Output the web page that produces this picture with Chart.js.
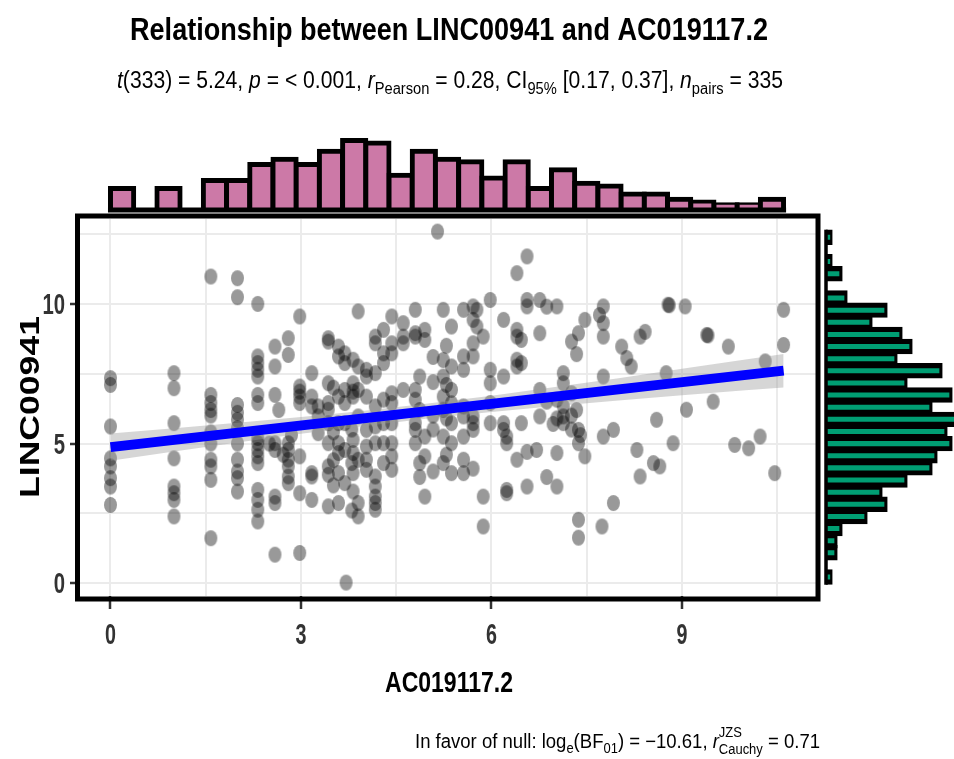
<!DOCTYPE html>
<html>
<head>
<meta charset="utf-8">
<title>LINC00941 vs AC019117.2</title>
<script src="https://cdn.jsdelivr.net/npm/chart.js@4.4.1/dist/chart.umd.min.js"></script>
<style>
  html, body { margin: 0; padding: 0; background: #ffffff; width: 954px; height: 759px; overflow: hidden; position: relative; }
  canvas { position: absolute; }
  #main { left: 0; top: 0; }
  #topHist { left: 80px; top: 130px; }
  #rightHist { left: 823px; top: 219px; }
</style>
</head>
<body>
<canvas id="main" width="954" height="759"></canvas>
<canvas id="topHist" width="736" height="83"></canvas>
<canvas id="rightHist" width="150" height="377"></canvas>
<script>
// ---- data -------------------------------------------------------------
// expression pairs [AC019117.2, LINC00941]
const samplePairs = [
  [0, 7.34], [0, 7.10], [0, 5.61], [0, 4.47], [0, 4.18], [0, 3.76], [0, 3.46], [0, 2.80],
  [1.0, 7.52], [1.0, 6.98], [1.0, 5.73], [1.0, 4.47], [1.0, 3.46], [1.0, 3.22], [1.0, 2.98], [1.0, 2.39],
  [1.58, 10.98], [1.58, 6.74], [1.58, 6.45], [1.58, 6.20], [1.58, 6.00], [1.58, 5.40], [1.58, 5.00], [1.58, 4.42], [1.58, 4.18], [1.58, 3.70], [1.58, 1.61],
  [2.0, 10.92], [2.0, 10.24], [2.0, 6.38], [2.0, 6.10], [2.0, 5.85], [2.0, 5.55], [2.0, 5.00], [2.0, 4.42], [2.0, 4.00], [2.0, 3.76], [2.0, 3.28],
  [2.32, 10.00], [2.32, 8.12], [2.32, 7.88], [2.32, 7.64], [2.32, 7.40], [2.32, 6.74], [2.32, 6.45], [2.32, 5.20], [2.32, 5.01], [2.32, 4.77], [2.32, 4.54], [2.32, 4.30], [2.32, 3.34], [2.32, 2.98], [2.32, 2.63], [2.32, 2.21], [2.50, 5.00],
  [2.59, 8.47], [2.59, 7.76], [2.59, 6.74], [2.59, 5.01], [2.59, 4.77], [2.59, 3.10], [2.59, 2.87], [2.59, 1.02],
  [2.80, 8.77], [2.80, 8.17], [2.80, 5.01], [2.80, 4.77], [2.80, 4.42], [2.80, 4.18], [2.80, 3.82], [2.80, 3.58],
  [2.72, 4.60], [2.85, 5.30], [2.65, 6.20],
  [2.98, 9.55], [2.98, 7.04], [2.98, 6.86], [2.98, 6.68], [2.98, 6.45], [2.98, 4.54], [2.98, 3.22], [2.98, 1.08],
  [3.17, 7.52], [3.17, 6.68], [3.17, 6.33], [3.17, 3.94], [3.17, 3.82], [3.17, 2.98], [3.27, 6.33], [3.27, 5.97], [3.27, 5.37],
  [3.43, 8.77], [3.43, 8.65], [3.43, 7.16], [3.43, 6.45], [3.43, 6.21], [3.43, 5.73], [3.43, 5.01], [3.43, 4.18], [3.43, 3.88], [3.43, 2.75],
  [3.59, 8.47], [3.59, 8.12], [3.59, 6.68], [3.59, 5.73], [3.59, 5.01], [3.59, 4.66], [3.59, 3.94], [3.59, 2.87],
  [3.51, 7.00], [3.51, 5.40], [3.51, 4.40], [3.51, 3.50],
  [3.69, 8.23], [3.69, 7.88], [3.69, 6.92], [3.69, 6.45], [3.69, 5.73], [3.69, 4.77], [3.69, 3.58], [3.71, 0.02],
  [3.82, 8.00], [3.82, 7.16], [3.82, 6.86], [3.82, 6.68], [3.82, 5.13], [3.82, 4.66], [3.82, 3.94], [3.82, 3.28],
  [3.90, 9.73], [3.90, 7.76], [3.90, 6.92], [3.90, 5.97], [3.90, 4.42], [3.90, 2.87], [3.90, 2.39],
  [3.80, 5.50], [3.80, 4.30], [3.80, 2.60],
  [4.03, 7.64], [4.03, 7.40], [4.03, 6.68], [4.03, 5.49], [4.03, 4.89], [4.03, 4.42], [4.03, 4.06],
  [4.17, 8.83], [4.17, 8.59], [4.17, 7.52], [4.17, 6.33], [4.17, 5.61], [4.17, 5.01], [4.17, 3.82], [4.17, 3.46], [4.17, 3.10], [4.17, 2.87], [4.17, 2.63],
  [4.30, 9.07], [4.30, 8.23], [4.30, 7.88], [4.30, 6.57], [4.30, 5.73], [4.30, 5.01], [4.30, 4.30],
  [4.43, 9.55], [4.43, 8.59], [4.43, 8.23], [4.43, 6.80], [4.43, 6.45], [4.43, 5.73], [4.43, 5.01], [4.43, 4.54], [4.43, 4.06],
  [4.61, 9.31], [4.61, 8.83], [4.61, 8.59], [4.61, 6.92],
  [4.80, 9.79], [4.80, 8.95], [4.80, 8.83], [4.80, 6.92], [4.80, 6.57], [4.80, 5.73], [4.80, 5.49], [4.80, 5.01],
  [4.95, 9.07], [4.95, 8.71], [4.95, 5.25], [4.95, 4.54], [4.95, 3.10],
  [4.87, 7.40], [4.87, 6.20], [4.87, 4.30], [4.87, 3.80],
  [5.08, 8.10], [5.08, 7.20], [5.08, 6.00], [5.08, 5.50], [5.08, 4.00],
  [5.15, 12.59],
  [5.24, 9.79], [5.24, 7.99], [5.24, 7.40], [5.24, 6.68], [5.24, 6.21], [5.24, 5.25], [5.24, 4.30],
  [5.37, 9.19], [5.37, 7.76], [5.37, 6.92], [5.37, 6.44], [5.37, 5.73], [5.37, 5.01], [5.37, 3.94],
  [5.29, 8.50], [5.29, 7.10], [5.29, 4.60], [5.29, 5.90],
  [5.56, 9.79], [5.56, 8.12], [5.56, 7.64], [5.56, 6.33], [5.56, 5.97], [5.56, 5.25], [5.56, 4.42], [5.56, 3.94],
  [5.71, 9.91], [5.71, 9.43], [5.71, 8.59], [5.71, 8.12], [5.71, 5.97], [5.71, 5.73], [5.71, 5.49], [5.71, 4.10],
  [5.77, 9.79], [5.77, 9.19],
  [5.98, 10.14], [5.98, 7.64], [5.98, 7.16], [5.98, 6.45], [5.98, 5.73],
  [5.87, 8.83], [5.87, 3.10], [5.87, 2.03],
  [6.19, 9.43], [6.19, 7.40], [6.19, 5.73], [6.19, 5.49],
  [6.24, 5.25], [6.24, 5.01], [6.24, 3.34], [6.24, 3.22],
  [6.40, 11.10], [6.40, 9.07], [6.40, 8.83], [6.40, 8.00], [6.40, 7.76], [6.40, 4.42],
  [6.47, 8.71], [6.47, 7.88], [6.47, 5.73],
  [6.56, 11.70], [6.56, 10.14], [6.56, 9.91], [6.56, 4.70], [6.56, 3.46],
  [6.76, 10.14], [6.76, 8.95], [6.76, 6.92], [6.76, 5.97], [6.71, 4.77], [6.87, 9.90], [6.87, 3.80], [6.87, 6.50],
  [7.03, 9.91], [7.03, 6.57], [7.03, 4.66], [7.03, 3.46], [7.03, 5.90],
  [7.13, 7.52], [7.13, 7.16], [7.13, 6.33], [7.13, 5.97], [7.13, 5.73],
  [7.26, 8.65], [7.26, 6.80], [7.26, 5.50], [7.26, 6.00], [6.97, 5.70],
  [7.37, 8.95], [7.37, 5.49], [7.37, 5.01], [7.37, 2.27], [7.37, 1.63],
  [7.47, 9.43], [7.47, 4.54], [7.34, 8.20], [7.34, 6.20], [7.40, 5.30],
  [7.76, 9.91], [7.76, 9.31], [7.76, 8.83], [7.76, 7.40], [7.76, 5.25],
  [7.92, 5.49], [7.92, 2.87], [7.74, 2.03], [7.70, 9.60],
  [8.05, 8.47], [8.13, 8.06], [8.20, 7.76], [8.29, 4.77], [8.34, 3.82], [8.34, 8.83], [8.42, 9.00],
  [8.55, 4.30], [8.65, 4.18], [8.60, 5.85], [8.75, 7.52], [8.78, 9.97], [8.80, 9.95], [8.86, 5.01],
  [9.05, 9.91], [9.07, 6.21], [9.39, 8.89], [9.41, 8.87], [9.49, 6.50], [9.73, 8.47], [9.83, 4.95],
  [10.05, 4.83], [10.23, 5.25], [10.31, 7.94], [10.46, 3.94], [10.60, 9.79], [10.60, 8.53]
];

// linear fit and its 95% confidence band
const fitX = [0, 10.6];
const fitY = [4.87, 7.61];
const bandX    = [0,    1,    2,    3,    4,    5,    6,    7,    8,    9,    10,   10.6];
const bandLow  = [4.38, 4.71, 5.04, 5.35, 5.63, 5.90, 6.13, 6.34, 6.54, 6.73, 6.91, 7.01];
const bandHigh = [5.36, 5.55, 5.74, 5.95, 6.17, 6.43, 6.71, 7.02, 7.34, 7.68, 8.01, 8.21];

// marginal histograms (29 bins each, starting at 0)
const xBinWidth = 0.3655;
const xBinCounts = [8, 0, 8, 0, 11, 11, 17, 19, 17, 22, 26, 25, 13, 22, 19, 18, 12, 18, 8, 15, 10, 9, 6, 6, 4, 3, 2, 2, 4];
const yBinWidth = 0.4345;
const yBinCounts = [1, 0, 2, 2, 3, 8, 12, 11, 16, 21, 22, 25, 24, 27, 21, 25, 16, 23, 14, 17, 15, 9, 12, 4, 0, 3, 1, 0, 1];

// axes
const xTickValues = [0, 3, 6, 9];
const xTickLabels = ['0', '3', '6', '9'];
const yTickValues = [0, 5, 10];
const yTickLabels = ['0', '5', '10'];

const titleText = 'Relationship between LINC00941 and AC019117.2';
const xAxisTitle = 'AC019117.2';
const yAxisTitle = 'LINC00941';

// ---- helpers ------------------------------------------------------------
const FAMILY = '"Liberation Sans", Arial, Helvetica, sans-serif';
const font = (style, size) => `${style} ${size}px ${FAMILY}`;

// Draw a run of text pieces (with sub/superscripts), horizontally condensed.
function drawRuns(ctx, runs, x, y, align, fit, color) {
  let total = 0;
  for (const r of runs) {
    ctx.font = r.font;
    r.w = ctx.measureText(r.text).width;
    if (r.over) {
      ctx.font = r.overFont;
      r.w = Math.max(r.w, ctx.measureText(r.over).width);
    }
    total += r.w;
  }
  const sx = fit.width ? fit.width / total : fit.sx;
  const W = total * sx;
  const x0 = align === 'center' ? x - W / 2 : (align === 'right' ? x - W : x);
  ctx.save();
  ctx.translate(x0, y);
  ctx.scale(sx, 1);
  ctx.fillStyle = color;
  ctx.textAlign = 'left';
  ctx.textBaseline = 'alphabetic';
  let cx = 0;
  for (const r of runs) {
    ctx.font = r.font;
    ctx.fillText(r.text, cx, r.dy || 0);
    if (r.over) {
      ctx.font = r.overFont;
      ctx.fillText(r.over, cx, r.overDy);
    }
    cx += r.w;
  }
  ctx.restore();
}

function makeDot(w, h) {
  const c = document.createElement('canvas');
  c.width = w + 2;
  c.height = h + 2;
  const g = c.getContext('2d');
  g.fillStyle = 'rgba(0,0,0,0.4)';
  g.beginPath();
  g.ellipse(c.width / 2, c.height / 2, w / 2, h / 2, 0, 0, Math.PI * 2);
  g.fill();
  return c;
}

const near = (v, list) => list.some(t => Math.abs(t - v) < 1e-6);

const X_MIN = -0.48, X_MAX = 11.11;
const Y_MIN = -0.46, Y_MAX = 13.04;

// ---- main scatter panel ------------------------------------------------
const frameAndText = {
  id: 'frameAndText',
  afterDraw(chart) {
    const { ctx, chartArea: a, scales } = chart;
    ctx.save();
    ctx.strokeStyle = '#000000';
    ctx.lineWidth = 5;
    ctx.strokeRect(a.left - 2.5, a.top - 3, (a.right + 2) - (a.left - 2.5), (a.bottom + 3) - (a.top - 3));
    ctx.restore();

    const tickColor = '#333333';
    xTickValues.forEach((v, i) => {
      drawRuns(ctx, [{ text: xTickLabels[i], font: font('bold', 29) }],
        scales.x.getPixelForValue(v), 644, 'center', { sx: 0.68 }, tickColor);
    });
    yTickValues.forEach((v, i) => {
      drawRuns(ctx, [{ text: yTickLabels[i], font: font('bold', 29) }],
        65, scales.y.getPixelForValue(v) + 10, 'right', { sx: 0.7 }, tickColor);
    });

    // title
    drawRuns(ctx, [{ text: titleText, font: font('bold', 32) }], 449, 40, 'center', { width: 638 }, '#000');

    // subtitle
    const N = font('normal', 23), I = font('italic', 23), S = font('normal', 16);
    drawRuns(ctx, [
      { text: 't', font: I },
      { text: '(333) = 5.24, ', font: N },
      { text: 'p', font: I },
      { text: ' = < 0.001, ', font: N },
      { text: 'r', font: I },
      { text: 'Pearson', font: S, dy: 6 },
      { text: ' = 0.28, CI', font: N },
      { text: '95%', font: S, dy: 6 },
      { text: ' [0.17, 0.37], ', font: N },
      { text: 'n', font: I },
      { text: 'pairs', font: S, dy: 6 },
      { text: ' = 335', font: N }
    ], 450, 88, 'center', { width: 666 }, '#000');

    // axis titles
    drawRuns(ctx, [{ text: xAxisTitle, font: font('bold', 30) }], 449, 692, 'center', { width: 128 }, '#000');
    ctx.save();
    ctx.translate(28, 407);
    ctx.rotate(-Math.PI / 2);
    drawRuns(ctx, [{ text: yAxisTitle, font: font('bold', 28) }], 0, 11, 'center', { width: 182 }, '#000');
    ctx.restore();

    // caption
    const CN = font('normal', 20), CI = font('italic', 20), CS = font('normal', 14);
    drawRuns(ctx, [
      { text: 'In favor of null: log', font: CN },
      { text: 'e', font: CS, dy: 5 },
      { text: '(BF', font: CN },
      { text: '01', font: CS, dy: 5 },
      { text: ') = \u221210.61, ', font: CN },
      { text: 'r', font: CI },
      { text: 'Cauchy', font: CS, dy: 6, over: 'JZS', overFont: CS, overDy: -11 },
      { text: ' = 0.71', font: CN }
    ], 820, 748, 'right', { width: 405 }, '#000');
  }
};

const dot = makeDot(13, 16);

new Chart(document.getElementById('main'), {
  type: 'scatter',
  data: {
    datasets: [
      {
        type: 'scatter',
        data: samplePairs.map(p => ({ x: p[0], y: p[1] })),
        pointStyle: dot,
        pointRadius: 6,
        pointHoverRadius: 6,
        order: 2
      },
      {
        type: 'line',
        data: bandX.map((x, i) => ({ x, y: bandHigh[i] })),
        borderColor: 'rgba(0,0,0,0)',
        borderWidth: 0,
        pointRadius: 0,
        fill: '+1',
        backgroundColor: 'rgba(153,153,153,0.4)',
        order: 1
      },
      {
        type: 'line',
        data: bandX.map((x, i) => ({ x, y: bandLow[i] })),
        borderColor: 'rgba(0,0,0,0)',
        borderWidth: 0,
        pointRadius: 0,
        fill: false,
        order: 1
      },
      {
        type: 'line',
        data: fitX.map((x, i) => ({ x, y: fitY[i] })),
        borderColor: '#0000FF',
        borderWidth: 10,
        borderCapStyle: 'butt',
        pointRadius: 0,
        fill: false,
        order: 0
      }
    ]
  },
  options: {
    responsive: false,
    animation: false,
    devicePixelRatio: 1,
    events: [],
    layout: { padding: { left: 0, top: 219, right: 138, bottom: 0 } },
    plugins: { legend: { display: false }, tooltip: { enabled: false }, title: { display: false } },
    scales: {
      x: {
        type: 'linear',
        min: X_MIN,
        max: X_MAX,
        border: { display: false },
        ticks: { display: false, stepSize: 1.5, includeBounds: false },
        grid: {
          color: '#EBEBEB',
          lineWidth: 2,
          drawTicks: true,
          tickLength: 13,
          tickWidth: 2.5,
          tickColor: c => near(c.tick.value, xTickValues) ? '#333333' : 'rgba(0,0,0,0)'
        },
        afterFit: s => { s.height = 163; }
      },
      y: {
        type: 'linear',
        min: Y_MIN,
        max: Y_MAX,
        border: { display: false },
        ticks: { display: false, stepSize: 2.5, includeBounds: false },
        grid: {
          color: '#EBEBEB',
          lineWidth: 2,
          drawTicks: true,
          tickLength: 10,
          tickWidth: 2.5,
          tickColor: c => near(c.tick.value, yTickValues) ? '#333333' : 'rgba(0,0,0,0)'
        },
        afterFit: s => { s.width = 80; }
      }
    }
  },
  plugins: [frameAndText]
});

// ---- top marginal histogram -------------------------------------------
const xBinCenters = xBinCounts.map((_, i) => (i + 0.5) * xBinWidth);

const topBaseline = {
  id: 'topBaseline',
  afterDatasetsDraw(chart) {
    const { ctx, scales: { x, y } } = chart;
    const l = x.getPixelForValue(0) - 2.5;
    const r = x.getPixelForValue(xBinCounts.length * xBinWidth) + 2.5;
    const b = y.getPixelForValue(0);
    ctx.save();
    ctx.fillStyle = '#000';
    ctx.fillRect(l, b - 2.5, r - l, 5);
    ctx.restore();
  }
};

new Chart(document.getElementById('topHist'), {
  type: 'bar',
  data: {
    datasets: [{
      data: xBinCenters.map((c, i) => ({ x: c, y: xBinCounts[i] })),
      backgroundColor: '#CC79A7',
      borderColor: '#000000',
      borderWidth: { top: 5, left: 5, right: 5, bottom: 0 },
      borderSkipped: 'start',
      inflateAmount: 2.5,
      barPercentage: 1,
      categoryPercentage: 1
    }]
  },
  options: {
    responsive: false,
    animation: false,
    devicePixelRatio: 1,
    events: [],
    layout: { padding: { left: 0, right: 0, top: 0, bottom: 3 } },
    plugins: { legend: { display: false }, tooltip: { enabled: false } },
    scales: {
      x: { type: 'linear', min: X_MIN, max: X_MAX, offset: false, display: false, ticks: { stepSize: 2, includeBounds: false } },
      y: { type: 'linear', min: 0, max: 29.9, display: false }
    }
  },
  plugins: [topBaseline]
});

// ---- right marginal histogram -----------------------------------------
const yBinCenters = yBinCounts.map((_, i) => (i + 0.5) * yBinWidth);

const rightBaseline = {
  id: 'rightBaseline',
  afterDatasetsDraw(chart) {
    const { ctx, scales: { x, y } } = chart;
    const t = y.getPixelForValue(yBinCounts.length * yBinWidth) - 1.6;
    const b = y.getPixelForValue(0) + 1.6;
    const l = x.getPixelForValue(0);
    ctx.save();
    ctx.fillStyle = '#000';
    ctx.fillRect(l - 1.75, t, 3.5, b - t);
    ctx.restore();
  }
};

new Chart(document.getElementById('rightHist'), {
  type: 'bar',
  data: {
    datasets: [{
      data: yBinCenters.map((c, i) => ({ y: c, x: yBinCounts[i] })),
      backgroundColor: '#009E73',
      borderColor: '#000000',
      borderWidth: { top: 5.2, bottom: 5.2, right: 3.3, left: 0 },
      borderSkipped: 'start',
      inflateAmount: 1.65,
      barPercentage: 1,
      categoryPercentage: 1
    }]
  },
  options: {
    indexAxis: 'y',
    responsive: false,
    animation: false,
    devicePixelRatio: 1,
    events: [],
    layout: { padding: { left: 3, right: 0, top: 0, bottom: 0 } },
    plugins: { legend: { display: false }, tooltip: { enabled: false } },
    scales: {
      y: { type: 'linear', min: Y_MIN, max: Y_MAX, offset: false, display: false, ticks: { stepSize: 2, includeBounds: false } },
      x: { type: 'linear', min: 0, max: 29.4, display: false }
    }
  },
  plugins: [rightBaseline]
});
</script>
</body>
</html>
